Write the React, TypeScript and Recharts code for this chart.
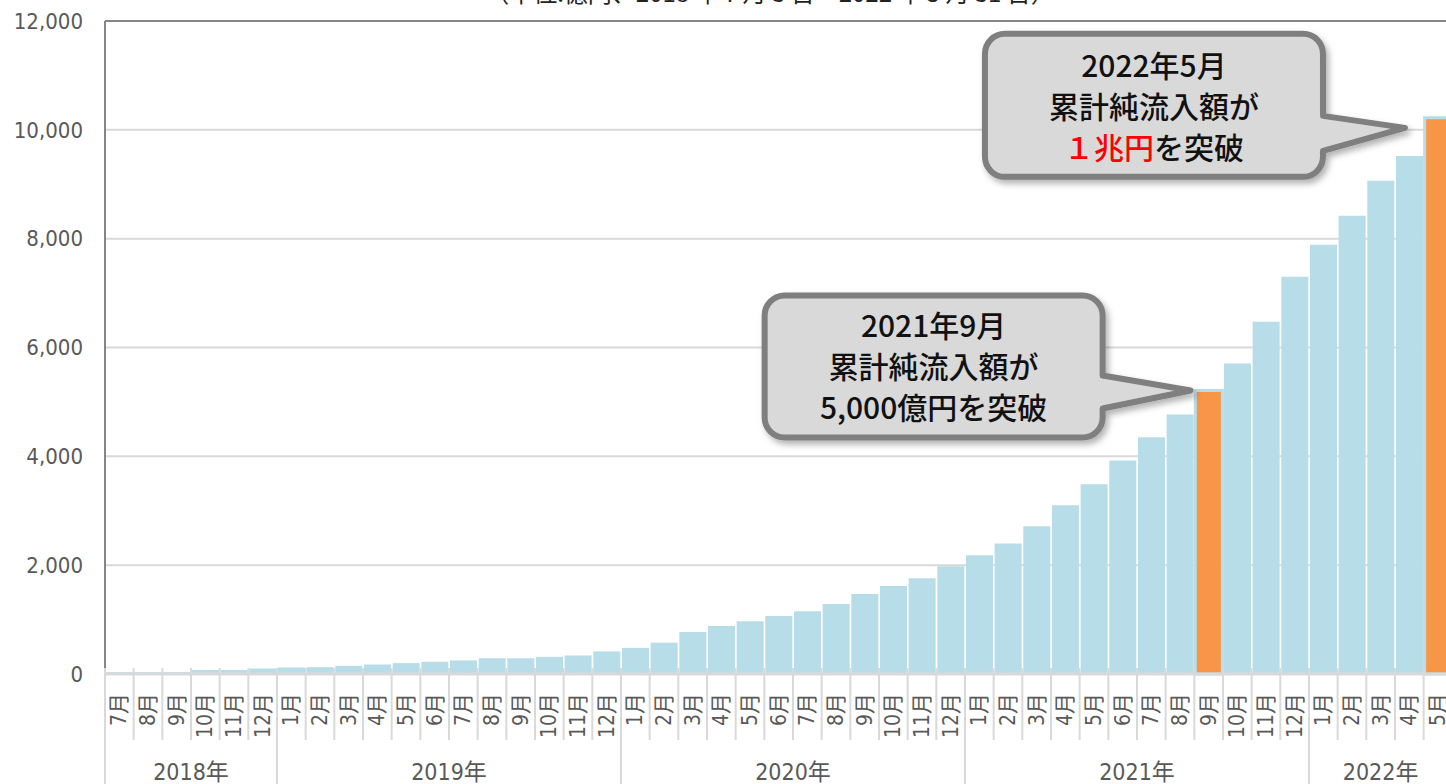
import { BarChart, Bar, XAxis, YAxis, CartesianGrid, Cell, ReferenceLine, ReferenceDot } from 'recharts';

// cumulative net inflow, 億円 (2018-07 .. 2022-05)
const years = ['2018年', '2019年', '2020年', '2021年', '2022年'];
const yearMonthCounts = [6, 12, 12, 12, 5];
const monthLabels = [
   '7月', '8月', '9月', '10月', '11月', '12月',
   '1月', '2月', '3月', '4月', '5月', '6月', '7月', '8月', '9月', '10月', '11月', '12月',
   '1月', '2月', '3月', '4月', '5月', '6月', '7月', '8月', '9月', '10月', '11月', '12月',
   '1月', '2月', '3月', '4月', '5月', '6月', '7月', '8月', '9月', '10月', '11月', '12月',
   '1月', '2月', '3月', '4月', '5月'
];
const values = [
   35, 35, 35, 75, 75, 100,
   120, 125, 150, 175, 200, 225, 250, 290, 290, 315, 340, 415,
   480, 575, 770, 880, 970, 1065, 1155, 1285, 1470, 1615, 1760, 1980,
   2180, 2400, 2715, 3100, 3485, 3925, 4350, 4770, 5210, 5705, 6475, 7300,
   7890, 8420, 9065, 9520, 10220
];
const highlightIdx = [38, 46];
const yTicks = [0, 2000, 4000, 6000, 8000, 10000, 12000];

const data = values.map((v, i) => ({ key: 'm' + i, month: monthLabels[i], value: v }));

const yearStarts: number[] = [];
yearMonthCounts.reduce((acc, n) => {
   yearStarts.push(acc);
   return acc + n;
}, 0);

const W = 1460;
const H = 784;
const MARGIN = { top: 21, right: 7.7, left: 0, bottom: 0 };
const Y_AXIS_W = 105;
const BAND = (W - Y_AXIS_W - MARGIN.left - MARGIN.right) / data.length;

const FONT = "'DejaVu Sans Condensed', 'DejaVu Sans', 'Noto Sans CJK JP', sans-serif";
const CJK = "'Noto Sans CJK JP', sans-serif";
const GRAY = '#d9d9d9';

function MonthTick(props: any) {
   const { x, y, index } = props;
   const i = index ?? props.payload?.index;
   const left = x - BAND / 2;
   const yi = yearStarts.indexOf(i);
   const ty = y + 19;
   return (
      <g>
         <line x1={left} x2={left} y1={y - 6} y2={yi >= 0 ? H : 740} stroke={GRAY} strokeWidth={2} />
         <text
            x={x}
            y={ty}
            transform={`rotate(-90 ${x} ${ty})`}
            textAnchor='end'
            dominantBaseline='central'
            fontSize={21}
            fontFamily={FONT}
            fill='#595959'
         >
            {monthLabels[i]}
         </text>
         {yi >= 0 && (
            <text
               x={left + (yearMonthCounts[yi] * BAND) / 2}
               y={780}
               textAnchor='middle'
               fontSize={23}
               fontFamily={FONT}
               fill='#595959'
            >
               {years[yi]}
            </text>
         )}
      </g>
   );
}

const callouts = [
   {
      idx: 38,
      box: { l: -444, r: -106, t: -95, b: 47 },
      base: [-15, 18],
      tip: { x: -18, y: 0 },
      baselines: [-53, -12, 29],
      lines: [
         [{ t: '2021年9月' }],
         [{ t: '累計純流入額が' }],
         [{ t: '5,000億円を突破' }]
      ]
   },
   {
      idx: 46,
      box: { l: -453, r: -115, t: -84, b: 59 },
      base: [-2, 33],
      tip: { x: -33, y: 10 },
      baselines: [-41, 0, 41],
      lines: [
         [{ t: '2022年5月' }],
         [{ t: '累計純流入額が' }],
         [{ t: '１兆円', c: '#ff0000' }, { t: 'を突破' }]
      ]
   }
];

function Callout({ cx, cy, c }: any) {
   const r = 20;
   const L = cx + c.box.l;
   const R = cx + c.box.r;
   const T = cy + c.box.t;
   const B = cy + c.box.b;
   const d = [
      `M ${L + r} ${T}`,
      `H ${R - r}`,
      `A ${r} ${r} 0 0 1 ${R} ${T + r}`,
      `V ${cy + c.base[0]}`,
      `L ${cx + c.tip.x} ${cy + c.tip.y}`,
      `L ${R} ${cy + c.base[1]}`,
      `V ${B - r}`,
      `A ${r} ${r} 0 0 1 ${R - r} ${B}`,
      `H ${L + r}`,
      `A ${r} ${r} 0 0 1 ${L} ${B - r}`,
      `V ${T + r}`,
      `A ${r} ${r} 0 0 1 ${L + r} ${T}`,
      'Z'
   ].join(' ');
   const mid = (L + R) / 2;
   const fid = 'shadow' + c.idx;
   return (
      <g>
         <defs>
            <filter id={fid} x='-10%' y='-10%' width='130%' height='140%'>
               <feDropShadow dx={3} dy={4} stdDeviation={3} floodColor='#000' floodOpacity={0.3} />
            </filter>
         </defs>
         <path d={d} fill='#d9d9d9' stroke='#7f7f7f' strokeWidth={6} strokeLinejoin='round' filter={`url(#${fid})`} />
         {c.lines.map((segs: any[], li: number) => (
            <text
               key={li}
               x={mid}
               y={cy + c.baselines[li]}
               textAnchor='middle'
               fontSize={30}
               fontWeight={500}
               fontFamily={CJK}
               fill='#111'
            >
               {segs.map((s, si) => (
                  <tspan key={si} fill={s.c ?? '#111'}>
                     {s.t}
                  </tspan>
               ))}
            </text>
         ))}
      </g>
   );
}

export default function App() {
   return (
      <div style={{ position: 'absolute', left: 0, top: 0, width: 1446, height: 784, overflow: 'hidden', background: '#fff' }}>
         <div
            style={{
               position: 'absolute',
               left: 440,
               top: -22,
               width: 660,
               textAlign: 'center',
               fontSize: 24,
               lineHeight: '28px',
               fontFamily: CJK,
               color: '#222',
               whiteSpace: 'nowrap'
            }}
         >
            （単位:億円、2018 年 7 月 3 日～2022 年 5 月 31 日）
         </div>
         <BarChart width={W} height={H} data={data} margin={MARGIN} barCategoryGap={1}>
            <CartesianGrid vertical={false} stroke={GRAY} strokeWidth={2} />
            <XAxis
               dataKey='key'
               interval={0}
               height={H - 674}
               tickLine={false}
               tickSize={0}
               tickMargin={0}
               axisLine={{ stroke: GRAY, strokeWidth: 3 }}
               tick={(p: any) => <MonthTick {...p} />}
            />
            <YAxis
               width={Y_AXIS_W}
               domain={[0, 12000]}
               ticks={yTicks}
               interval={0}
               tickLine={false}
               tickSize={0}
               tickMargin={22}
               axisLine={{ stroke: '#868686', strokeWidth: 2 }}
               tickFormatter={(v: number) => v.toLocaleString('en-US')}
               tick={{ fontSize: 22, fontFamily: FONT, fill: '#595959' }}
            />
            <ReferenceLine y={12000} stroke='#868686' strokeWidth={2} />
            <Bar dataKey='value' isAnimationActive={false}>
               {data.map((d, i) =>
                  highlightIdx.includes(i) ? (
                     <Cell key={d.key} fill='#f79646' stroke='#b7dde8' strokeWidth={3} />
                  ) : (
                     <Cell key={d.key} fill='#b7dde8' />
                  )
               )}
            </Bar>
            {callouts.map((c) => (
               <ReferenceDot
                  key={c.idx}
                  x={data[c.idx].key}
                  y={values[c.idx]}
                  r={0}
                  ifOverflow='visible'
                  shape={(p: any) => <Callout cx={p.cx} cy={p.cy} c={c} />}
               />
            ))}
         </BarChart>
      </div>
   );
}
